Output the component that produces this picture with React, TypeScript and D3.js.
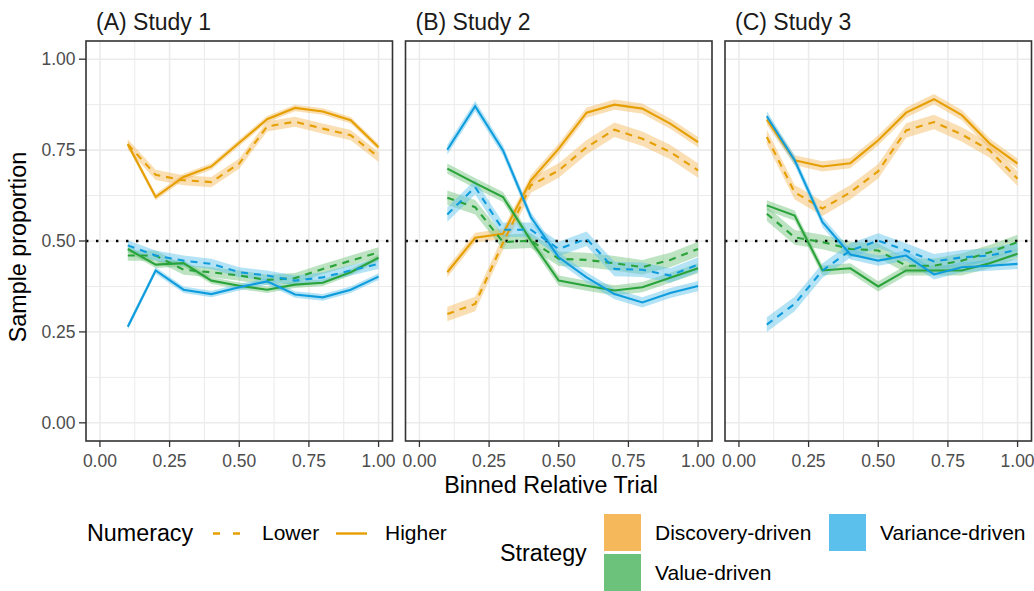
import React from "react";
import * as d3 from "d3";

// Bin centres of relative trial position
const bins = [0.1, 0.2, 0.3, 0.4, 0.5, 0.6, 0.7, 0.8, 0.9, 1.0];

const studyLabels = ["(A) Study 1", "(B) Study 2", "(C) Study 3"];
const strategies = ["Discovery-driven", "Value-driven", "Variance-driven"];
const numeracyLevels = ["Lower", "Higher"];

// Study 1
const s1DiscoveryLower = [0.766, 0.682, 0.667, 0.662, 0.713, 0.815, 0.828, 0.809, 0.791, 0.731];
const s1DiscoveryHigher = [0.766, 0.621, 0.676, 0.705, 0.770, 0.835, 0.866, 0.856, 0.832, 0.758];
const s1ValueLower = [0.460, 0.460, 0.421, 0.414, 0.405, 0.393, 0.398, 0.423, 0.446, 0.469];
const s1ValueHigher = [0.478, 0.435, 0.439, 0.391, 0.377, 0.366, 0.380, 0.385, 0.414, 0.454];
const s1VarianceLower = [0.488, 0.460, 0.446, 0.437, 0.414, 0.405, 0.391, 0.400, 0.419, 0.437];
const s1VarianceHigher = [0.264, 0.419, 0.366, 0.354, 0.373, 0.389, 0.353, 0.345, 0.366, 0.402];

// Study 2
const s2DiscoveryLower = [0.299, 0.327, 0.495, 0.653, 0.694, 0.758, 0.806, 0.781, 0.745, 0.694];
const s2DiscoveryHigher = [0.414, 0.509, 0.520, 0.667, 0.754, 0.853, 0.875, 0.864, 0.823, 0.772];
const s2ValueLower = [0.619, 0.593, 0.497, 0.501, 0.451, 0.448, 0.439, 0.428, 0.448, 0.478];
const s2ValueHigher = [0.699, 0.659, 0.621, 0.501, 0.391, 0.377, 0.364, 0.373, 0.399, 0.425];
const s2VarianceLower = [0.573, 0.648, 0.531, 0.531, 0.478, 0.506, 0.423, 0.421, 0.405, 0.435];
const s2VarianceHigher = [0.751, 0.871, 0.749, 0.566, 0.455, 0.400, 0.354, 0.331, 0.357, 0.376];

// Study 3
const s3DiscoveryLower = [0.786, 0.634, 0.589, 0.634, 0.692, 0.804, 0.827, 0.793, 0.749, 0.671];
const s3DiscoveryHigher = [0.834, 0.722, 0.705, 0.714, 0.777, 0.853, 0.890, 0.846, 0.768, 0.713];
const s3ValueLower = [0.575, 0.510, 0.497, 0.478, 0.474, 0.432, 0.432, 0.446, 0.469, 0.497];
const s3ValueHigher = [0.598, 0.570, 0.419, 0.425, 0.375, 0.419, 0.419, 0.419, 0.439, 0.465];
const s3VarianceLower = [0.270, 0.327, 0.419, 0.474, 0.501, 0.474, 0.444, 0.455, 0.460, 0.476];
const s3VarianceHigher = [0.843, 0.722, 0.552, 0.463, 0.446, 0.460, 0.408, 0.428, 0.432, 0.437];

// Half-width of the uncertainty band, per study: [Lower, Higher]
const bandHalfWidth = [
  [0.014, 0.009],
  [0.02, 0.014],
  [0.02, 0.014],
];

const xTicks = [0, 0.25, 0.5, 0.75, 1];
const yTicks = [0, 0.25, 0.5, 0.75, 1];
const minorTicks = [0.125, 0.375, 0.625, 0.875];
const referenceLine = 0.5;

// series[study][strategy][numeracy]
const series = [
  [
    [s1DiscoveryLower, s1DiscoveryHigher],
    [s1ValueLower, s1ValueHigher],
    [s1VarianceLower, s1VarianceHigher],
  ],
  [
    [s2DiscoveryLower, s2DiscoveryHigher],
    [s2ValueLower, s2ValueHigher],
    [s2VarianceLower, s2VarianceHigher],
  ],
  [
    [s3DiscoveryLower, s3DiscoveryHigher],
    [s3ValueLower, s3ValueHigher],
    [s3VarianceLower, s3VarianceHigher],
  ],
];

const lineColors = ["#E69F00", "#2AA33A", "#0F9CDD"];
const fillColors = ["#F5B95B", "#6CC27A", "#5BC1EC"];
const dashFor = (n: number) => (n === 0 ? "7,6" : null);

const FONT = "'Liberation Sans', Arial, Helvetica, sans-serif";
const W = 1034;
const H = 591;
const panelTop = 41;
const panelBottom = 441;
const panelLeft0 = 86;
const panelStep = 319.5;
const panelWidth = 306.5;

const y = d3.scaleLinear().domain([-0.05, 1.05]).range([panelBottom, panelTop]);

function Panel({ index }: { index: number }) {
  const left = panelLeft0 + index * panelStep;
  const right = left + panelWidth;
  const x = d3.scaleLinear().domain([-0.05, 1.05]).range([left, right]);
  const line = d3
    .line<[number, number]>()
    .x((d) => x(d[0]))
    .y((d) => y(d[1]));
  const area = d3
    .area<[number, number, number]>()
    .x((d) => x(d[0]))
    .y0((d) => y(d[1] - d[2]))
    .y1((d) => y(d[1] + d[2]));

  const clipId = `clip-${index}`;
  const groups: { s: number; n: number; vals: number[] }[] = [];
  strategies.forEach((_, s) =>
    numeracyLevels.forEach((_, n) => groups.push({ s, n, vals: series[index][s][n] }))
  );

  return (
    <g>
      <defs>
        <clipPath id={clipId}>
          <rect x={left} y={panelTop} width={panelWidth} height={panelBottom - panelTop} />
        </clipPath>
      </defs>
      <rect x={left} y={panelTop} width={panelWidth} height={panelBottom - panelTop} fill="#fff" />
      <g clipPath={`url(#${clipId})`}>
        {minorTicks.map((t) => (
          <g key={"mn" + t}>
            <line x1={x(t)} x2={x(t)} y1={panelTop} y2={panelBottom} stroke="#EBEBEB" strokeWidth={1} />
            <line x1={left} x2={right} y1={y(t)} y2={y(t)} stroke="#EBEBEB" strokeWidth={1} />
          </g>
        ))}
        {xTicks.map((t) => (
          <line key={"vx" + t} x1={x(t)} x2={x(t)} y1={panelTop} y2={panelBottom} stroke="#EBEBEB" strokeWidth={1.6} />
        ))}
        {yTicks.map((t) => (
          <line key={"hy" + t} x1={left} x2={right} y1={y(t)} y2={y(t)} stroke="#EBEBEB" strokeWidth={1.6} />
        ))}
        {groups.map((g) => (
          <path
            key={`band-${g.s}-${g.n}`}
            d={area(bins.map((b, i) => [b, g.vals[i], bandHalfWidth[index][g.n]]))!}
            fill={fillColors[g.s]}
            fillOpacity={0.45}
          />
        ))}
        <line
          x1={left}
          x2={right}
          y1={y(referenceLine)}
          y2={y(referenceLine)}
          stroke="#000"
          strokeWidth={2.4}
          strokeDasharray="2.4,7.6"
        />
        {groups.map((g) => (
          <path
            key={`line-${g.s}-${g.n}`}
            d={line(bins.map((b, i) => [b, g.vals[i]]))!}
            fill="none"
            stroke={lineColors[g.s]}
            strokeWidth={2.1}
            strokeDasharray={dashFor(g.n) ?? undefined}
          />
        ))}
      </g>
      <rect
        x={left}
        y={panelTop}
        width={panelWidth}
        height={panelBottom - panelTop}
        fill="none"
        stroke="#333333"
        strokeWidth={1.6}
      />
      <text x={left + 10} y={30} fontSize={23} fontFamily={FONT} fill="#1A1A1A">
        {studyLabels[index]}
      </text>
      {xTicks.map((t) => (
        <g key={"xt" + t}>
          <line x1={x(t)} x2={x(t)} y1={panelBottom} y2={panelBottom + 6} stroke="#333333" strokeWidth={1.3} />
          <text
            x={x(t)}
            y={466.5}
            textAnchor="middle"
            fontSize={17.5}
            fontFamily={FONT}
            fill="#4D4D4D"
          >
            {d3.format(".2f")(t)}
          </text>
        </g>
      ))}
      {index === 0 &&
        yTicks.map((t) => (
          <g key={"yt" + t}>
            <line x1={left - 7} x2={left} y1={y(t)} y2={y(t)} stroke="#333333" strokeWidth={1.3} />
            <text
              x={left - 10.5}
              y={y(t)}
              dy="0.35em"
              textAnchor="end"
              fontSize={17.5}
              fontFamily={FONT}
              fill="#4D4D4D"
            >
              {d3.format(".2f")(t)}
            </text>
          </g>
        ))}
    </g>
  );
}

function Legend() {
  return (
    <g fontFamily={FONT} fill="#000">
      <text x={87} y={541} fontSize={23.3}>Numeracy</text>
      <line x1={213} x2={244} y1={533.5} y2={533.5} stroke={lineColors[0]} strokeWidth={2.4} strokeDasharray="7,13" />
      <text x={262} y={540} fontSize={21}>{numeracyLevels[0]}</text>
      <line x1={336} x2={367} y1={533.5} y2={533.5} stroke={lineColors[0]} strokeWidth={2.4} />
      <text x={385} y={540} fontSize={21}>{numeracyLevels[1]}</text>

      <text x={500} y={561} fontSize={23.3}>Strategy</text>
      <rect x={604} y={514} width={37} height={37} fill={fillColors[0]} />
      <text x={655} y={540} fontSize={21}>{strategies[0]}</text>
      <rect x={604} y={554} width={37} height={37} fill={fillColors[1]} />
      <text x={655} y={580} fontSize={21}>{strategies[1]}</text>
      <rect x={829} y={514} width={37} height={37} fill={fillColors[2]} />
      <text x={880} y={540} fontSize={21}>{strategies[2]}</text>
    </g>
  );
}

export default function App() {
  return (
    <svg
      width={W}
      height={H}
      viewBox={`0 0 ${W} ${H}`}
      style={{ position: "absolute", left: 0, top: 0, background: "#fff" }}
    >
      <rect width={W} height={H} fill="#fff" />
      {studyLabels.map((_, i) => (
        <Panel key={i} index={i} />
      ))}
      <text
        transform="translate(26,247) rotate(-90)"
        textAnchor="middle"
        fontSize={23.3}
        fontFamily={FONT}
        fill="#000"
      >
        Sample proportion
      </text>
      <text x={551} y={493} textAnchor="middle" fontSize={23.3} fontFamily={FONT} fill="#000">
        Binned Relative Trial
      </text>
      <Legend />
    </svg>
  );
}
